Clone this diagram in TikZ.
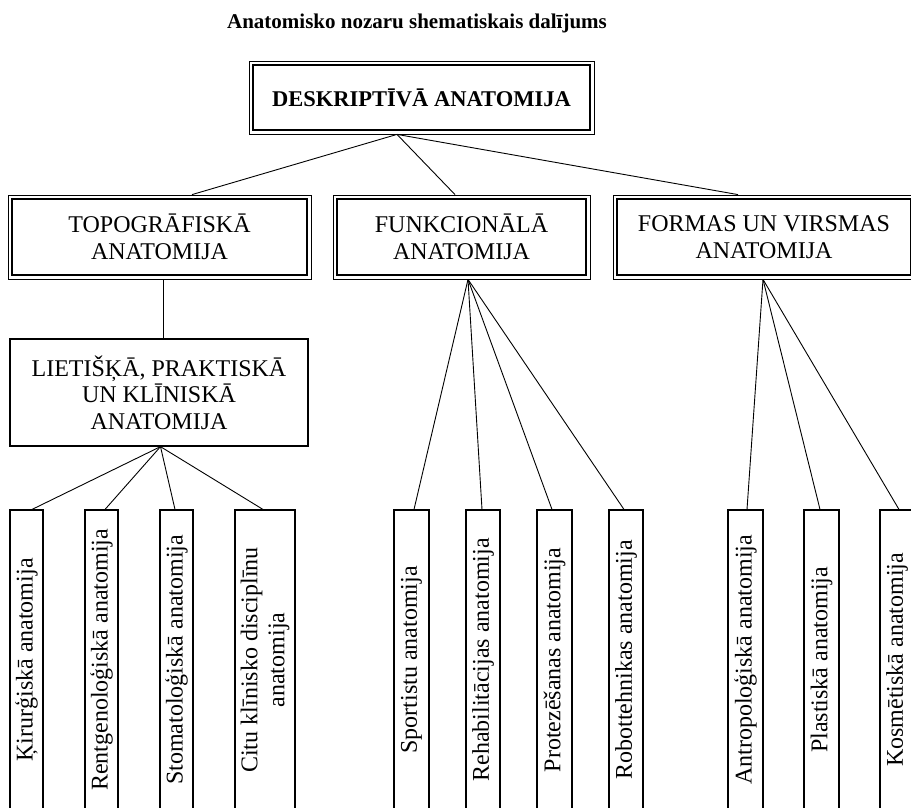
\documentclass[tikz,border=0pt]{standalone}
\usepackage{fontspec}
\setmainfont{Liberation Serif}
\begin{document}
\begin{tikzpicture}[x=1pt,y=-1pt,
  lbl/.style={font=\fontsize{24}{27}\selectfont, align=center},
  dbox/.style={draw, line width=0.8pt, inner sep=0pt, lbl},
  sbox/.style={draw, line width=1.3pt, inner sep=0pt, lbl},
  leaf/.style={draw, line width=1.1pt, inner sep=0pt, rotate=90, minimum width=300pt, lbl},
  conn/.style={line width=0.9pt}]
\fill[white] (0,0) rectangle (911,808);
\useasboundingbox (0,0) rectangle (911,808);
\clip (0,0) rectangle (911,808);
% title
\node[font=\bfseries\fontsize{21}{25}\selectfont, anchor=base] (title) at (417,29) {Anatomisko nozaru shematiskais dalījums};
% top box
\node[dbox, minimum width=345pt, minimum height=73pt, font=\bfseries\fontsize{22.5}{26}\selectfont] (top) at (421.5,97.5) {DESKRIPTĪVĀ ANATOMIJA};
% second level
\node[dbox, minimum width=303pt, minimum height=84pt] (topo) at (159.5,237) {TOPOGRĀFISKĀ\\ANATOMIJA};
\node[dbox, minimum width=257pt, minimum height=84pt] (funk) at (461.5,237) {FUNKCIONĀLĀ\\ANATOMIJA};
\node[dbox, minimum width=302pt, minimum height=84pt] (form) at (764,237) {FORMAS UN VIRSMAS\\ANATOMIJA};
\foreach \n in {top,topo,funk,form}
  \draw[line width=2.6pt] ([shift={(4.3pt,-4.3pt)}]\n.north west) rectangle ([shift={(-4.3pt,4.3pt)}]\n.south east);
% applied box
\node[sbox, minimum width=298pt, minimum height=107pt, font=\fontsize{24}{26.5}\selectfont] (lieti) at (159,392.5) {LIETIŠĶĀ, PRAKTISKĀ\\UN KLĪNISKĀ\\ANATOMIJA};
% leaves
\node[leaf, minimum height=33pt] (k1) at (26.5,660) {Ķirurģiskā anatomija};
\node[leaf, minimum height=33pt] (k2) at (101.5,660) {Rentgenoloģiskā anatomija};
\node[leaf, minimum height=33pt] (k3) at (176.5,660) {Stomatoloģiskā anatomija};
\node[leaf, minimum height=60pt] (k4) at (265,660) {Citu klīnisko disciplīnu\\anatomija};
\node[leaf, minimum height=35pt] (m1) at (411.5,660) {Sportistu anatomija};
\node[leaf, minimum height=34pt] (m2) at (483,660) {Rehabilitācijas anatomija};
\node[leaf, minimum height=35pt] (m3) at (554.5,660) {Protezēšanas anatomija};
\node[leaf, minimum height=34pt] (m4) at (626,660) {Robottehnikas anatomija};
\node[leaf, minimum height=35pt] (r1) at (745.5,660) {Antropoloģiskā anatomija};
\node[leaf, minimum height=35pt] (r2) at (821.5,660) {Plastiskā anatomija};
\node[leaf, minimum height=34pt] (r3) at (897,660) {Kosmētiskā anatomija};
% connectors
\draw[conn] ([xshift=-24.5pt]top.south) -- ([xshift=32.5pt]topo.north);
\draw[conn] ([xshift=-24.5pt]top.south) -- ([xshift=-6.5pt]funk.north);
\draw[conn] ([xshift=-24.5pt]top.south) -- ([xshift=-26pt]form.north);
\draw[conn] ([xshift=3.5pt]topo.south) -- ([xshift=4pt]lieti.north);
\foreach \n/\d in {k1/5.5,k2/3.5,k3/-1.5,k4/-2}
  \draw[conn] ([xshift=1.5pt]lieti.south) -- ([xshift=\d pt]\n.east);
\foreach \n/\d in {m1/2.5,m2/-1,m3/-2.5,m4/-2}
  \draw[conn] ([xshift=6.5pt]funk.south) -- ([xshift=\d pt]\n.east);
\foreach \n/\d in {r1/1.5,r2/-1.5,r3/2}
  \draw[conn] ([xshift=-1pt]form.south) -- ([xshift=\d pt]\n.east);
\end{tikzpicture}
\end{document}
